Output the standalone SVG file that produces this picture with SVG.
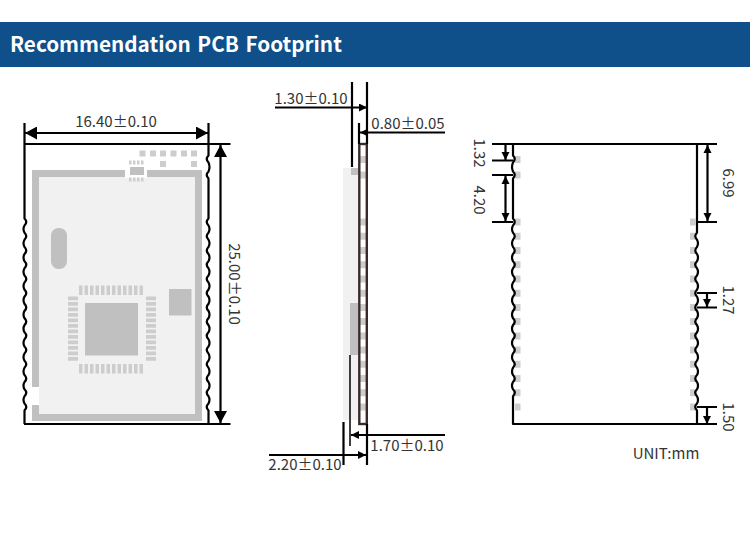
<svg xmlns="http://www.w3.org/2000/svg" width="750" height="550" viewBox="0 0 750 550">
<style>
text{font-family:"Noto Sans CJK SC","Noto Sans",sans-serif;font-size:15px;fill:#333}
text.t{font-family:"Noto Sans CJK SC","Noto Sans",sans-serif;font-size:20.700px;font-weight:700;fill:#fff;word-spacing:2px}
.g{fill:#c0c0c0}.p{fill:#cdcdcd}.k{fill:none;stroke:#000;stroke-width:2.200}
.e{fill:none;stroke:#000;stroke-width:2.200;stroke-linejoin:round}
</style>
<defs>
<marker id="bigE" markerUnits="userSpaceOnUse" markerWidth="13" markerHeight="14" refX="12" refY="6.500" orient="auto"><path d="M0 0L12 6.500L0 13Z"/></marker>
<marker id="bigS" markerUnits="userSpaceOnUse" markerWidth="13" markerHeight="14" refX="1" refY="6.500" orient="auto"><path d="M13 0L1 6.500L13 13Z"/></marker>
<marker id="smE" markerUnits="userSpaceOnUse" markerWidth="9" markerHeight="9" refX="8" refY="4" orient="auto"><path d="M0 0L8 4L0 8Z"/></marker>
<marker id="smS" markerUnits="userSpaceOnUse" markerWidth="9" markerHeight="9" refX="1" refY="4" orient="auto"><path d="M9 0L1 4L9 8Z"/></marker>
</defs>
<rect width="750" height="550" fill="#fff"/>
<g id="header"><rect x="0" y="22" width="750" height="45" fill="#0f4f8a"/><text class="t" x="10" y="51.500">Recommendation PCB Footprint</text></g>

<g id="module-top">
<rect x="32" y="170" width="170" height="251" fill="#c0c0c0"/>
<rect x="39" y="177" width="156" height="237" fill="#f1f1f1"/>
<rect x="125" y="168" width="22" height="10" fill="#fff"/>
<rect x="32" y="387" width="7" height="18" fill="#fff"/>
<rect x="130" y="167" width="14" height="8" class="g"/>
<path class="p" d="M129 160.500h2.500v4h-2.500zM133 160.500h2.500v4h-2.500zM137 160.500h2.500v4h-2.500zM141 160.500h2.500v4h-2.500zM129 177.500h2.500v4h-2.500zM133 177.500h2.500v4h-2.500zM137 177.500h2.500v4h-2.500zM141 177.500h2.500v4h-2.500z"/>
<path class="p" d="M139.500 150.500h6v6h-6zM150 150.500h6v6h-6zM160 150.500h6v6h-6zM170.500 150.500h6v6h-6zM181 150.500h6v6h-6zM191 150.500h6v6h-6zM160 161h6v6h-6zM191 161h6v6h-6z"/>
<rect x="51" y="228" width="16" height="41" rx="7.500" class="g"/>
<rect x="85" y="303" width="53" height="52.500" class="g"/>
<rect x="169" y="289" width="22.500" height="26.500" class="g"/>
<path class="p" d="M79 285.500h3.500v9.500h-3.500zM84.500 285.500h3.500v9.500h-3.500zM90 285.500h3.500v9.500h-3.500zM95.500 285.500h3.500v9.500h-3.500zM101 285.500h3.500v9.500h-3.500zM106.500 285.500h3.500v9.500h-3.500zM112 285.500h3.500v9.500h-3.500zM117.500 285.500h3.500v9.500h-3.500zM123 285.500h3.500v9.500h-3.500zM128.500 285.500h3.500v9.500h-3.500zM134 285.500h3.500v9.500h-3.500zM139.500 285.500h3.500v9.500h-3.500z"/>
<path class="p" d="M79 364h3.500v9.500h-3.500zM84.500 364h3.500v9.500h-3.500zM90 364h3.500v9.500h-3.500zM95.500 364h3.500v9.500h-3.500zM101 364h3.500v9.500h-3.500zM106.500 364h3.500v9.500h-3.500zM112 364h3.500v9.500h-3.500zM117.500 364h3.500v9.500h-3.500zM123 364h3.500v9.500h-3.500zM128.500 364h3.500v9.500h-3.500zM134 364h3.500v9.500h-3.500zM139.500 364h3.500v9.500h-3.500z"/>
<path class="p" d="M68 296.500h10v3.700h-10zM68 302h10v3.700h-10zM68 307.500h10v3.700h-10zM68 313h10v3.700h-10zM68 318.500h10v3.700h-10zM68 324h10v3.700h-10zM68 329.500h10v3.700h-10zM68 335h10v3.700h-10zM68 340.500h10v3.700h-10zM68 346h10v3.700h-10zM68 351.500h10v3.700h-10zM68 357h10v3.700h-10z"/>
<path class="p" d="M146 296.500h10v3.700h-10zM146 302h10v3.700h-10zM146 307.500h10v3.700h-10zM146 313h10v3.700h-10zM146 318.500h10v3.700h-10zM146 324h10v3.700h-10zM146 329.500h10v3.700h-10zM146 335h10v3.700h-10zM146 340.500h10v3.700h-10zM146 346h10v3.700h-10zM146 351.500h10v3.700h-10zM146 357h10v3.700h-10z"/>
<path class="e" d="M24.500 144V218.500q3.500 3.500 0 7q-2 3.600 0 7.230q3.500 3.500 0 7q-2 3.600 0 7.230q3.500 3.500 0 7q-2 3.600 0 7.230q3.500 3.500 0 7q-2 3.600 0 7.230q3.500 3.500 0 7q-2 3.600 0 7.230q3.500 3.500 0 7q-2 3.600 0 7.230q3.500 3.500 0 7q-2 3.600 0 7.230q3.500 3.500 0 7q-2 3.600 0 7.230q3.500 3.500 0 7q-2 3.600 0 7.230q3.500 3.500 0 7q-2 3.600 0 7.230q3.500 3.500 0 7q-2 3.600 0 7.230q3.500 3.500 0 7q-2 3.600 0 7.230q3.500 3.500 0 7q-2 3.600 0 7.230q3.500 3.500 0 7V424"/>
<path class="e" d="M208.500 144V155.500q-3.500 3.500 0 7q2 4.500 0 9q-3.500 3.500 0 7V218.500q-3.500 3.500 0 7q2 3.600 0 7.230q-3.500 3.500 0 7q2 3.600 0 7.230q-3.500 3.500 0 7q2 3.600 0 7.230q-3.500 3.500 0 7q2 3.600 0 7.230q-3.500 3.500 0 7q2 3.600 0 7.230q-3.500 3.500 0 7q2 3.600 0 7.230q-3.500 3.500 0 7q2 3.600 0 7.230q-3.500 3.500 0 7q2 3.600 0 7.230q-3.500 3.500 0 7q2 3.600 0 7.230q-3.500 3.500 0 7q2 3.600 0 7.230q-3.500 3.500 0 7q2 3.600 0 7.230q-3.500 3.500 0 7q2 3.600 0 7.230q-3.500 3.500 0 7q2 3.600 0 7.230q-3.500 3.500 0 7V424"/>
</g>

<g id="module-side">
<rect x="343" y="168" width="15" height="252" fill="#f1f1f1"/>
<rect x="351" y="168" width="7" height="7" class="g"/>
<rect x="350" y="303" width="8" height="52" class="g"/>
<path class="p" d="M360 156h6v7h-6zM360 171.500h6v7h-6zM360 218.500h6v7h-6zM360 232.700h6v7h-6zM360 247h6v7h-6zM360 261.200h6v7h-6zM360 275.400h6v7h-6zM360 289.700h6v7h-6zM360 303.900h6v7h-6zM360 318.100h6v7h-6zM360 332.400h6v7h-6zM360 346.600h6v7h-6zM360 360.800h6v7h-6zM360 375.100h6v7h-6zM360 389.300h6v7h-6zM360 403.500h6v7h-6z"/>
<rect x="359.300" y="144" width="7.500" height="280" fill="none" stroke="#3a2a2a" stroke-width="2.400"/>
</g>

<g id="module-pads">
<path class="p" d="M515 156h5.500v7h-5.500zM515 171.500h5.500v7h-5.500zM515 218.500h5.500v7h-5.500zM515 232.700h5.500v7h-5.500zM515 247h5.500v7h-5.500zM515 261.200h5.500v7h-5.500zM515 275.400h5.500v7h-5.500zM515 289.700h5.500v7h-5.500zM515 303.900h5.500v7h-5.500zM515 318.100h5.500v7h-5.500zM515 332.400h5.500v7h-5.500zM515 346.600h5.500v7h-5.500zM515 360.800h5.500v7h-5.500zM515 375.100h5.500v7h-5.500zM515 389.300h5.500v7h-5.500zM515 403.500h5.500v7h-5.500z"/>
<path class="p" d="M690 218.500h5.500v7h-5.500zM690 232.700h5.500v7h-5.500zM690 247h5.500v7h-5.500zM690 261.200h5.500v7h-5.500zM690 275.400h5.500v7h-5.500zM690 289.700h5.500v7h-5.500zM690 303.900h5.500v7h-5.500zM690 318.100h5.500v7h-5.500zM690 332.400h5.500v7h-5.500zM690 346.600h5.500v7h-5.500zM690 360.800h5.500v7h-5.500zM690 375.100h5.500v7h-5.500zM690 389.300h5.500v7h-5.500zM690 403.500h5.500v7h-5.500z"/>
<path class="e" d="M513 144V155.500q3.500 3.500 0 7q-2 4.500 0 9q3.500 3.500 0 7V218.500q3.500 3.500 0 7q-2 3.600 0 7.230q3.500 3.500 0 7q-2 3.600 0 7.230q3.500 3.500 0 7q-2 3.600 0 7.230q3.500 3.500 0 7q-2 3.600 0 7.230q3.500 3.500 0 7q-2 3.600 0 7.230q3.500 3.500 0 7q-2 3.600 0 7.230q3.500 3.500 0 7q-2 3.600 0 7.230q3.500 3.500 0 7q-2 3.600 0 7.230q3.500 3.500 0 7q-2 3.600 0 7.230q3.500 3.500 0 7q-2 3.600 0 7.230q3.500 3.500 0 7q-2 3.600 0 7.230q3.500 3.500 0 7q-2 3.600 0 7.230q3.500 3.500 0 7V424H697V410.500q-3.500 -3.500 0 -7q2 -3.600 0 -7.230q-3.500 -3.500 0 -7q2 -3.600 0 -7.230q-3.500 -3.500 0 -7q2 -3.600 0 -7.230q-3.500 -3.500 0 -7q2 -3.600 0 -7.230q-3.500 -3.500 0 -7q2 -3.600 0 -7.230q-3.500 -3.500 0 -7q2 -3.600 0 -7.230q-3.500 -3.500 0 -7q2 -3.600 0 -7.230q-3.500 -3.500 0 -7q2 -3.600 0 -7.230q-3.500 -3.500 0 -7q2 -3.600 0 -7.230q-3.500 -3.500 0 -7q2 -3.600 0 -7.230q-3.500 -3.500 0 -7q2 -3.600 0 -7.230q-3.500 -3.500 0 -7q2 -3.600 0 -7.230q-3.500 -3.500 0 -7V144Z"/>
</g>

<g id="connectors">
<path class="k" d="M24.500 123V144M208.500 123V144M24 144H230.500M24 424H230.500"/>
<path class="k" d="M25 133H208" marker-start="url(#bigS)" marker-end="url(#bigE)"/>
<path class="k" d="M220.500 145V423" marker-start="url(#bigS)" marker-end="url(#bigE)"/>
<path class="k" d="M352 82V167M367 82V144M359 123V144M367 424V465M343.500 422V465"/>
<path d="M350 355V446" fill="none" stroke="#000" stroke-width="1.500"/>
<path class="k" d="M275 107.500H367" marker-end="url(#smE)"/>
<path class="k" d="M445 132.500H360" marker-end="url(#smE)"/>
<path class="k" d="M445 435H351" marker-end="url(#smE)"/>
<path class="k" d="M269 455H366" marker-end="url(#smE)"/>
<path class="k" d="M492 144H717M492 160.500H513M492 175H513M492 222H513M697 222H717M697 293H717M697 307.500H717M697 407H717M697 424H717"/>
<path class="k" d="M505.500 145V160" marker-end="url(#smE)"/>
<path class="k" d="M505.500 176V221" marker-start="url(#smS)" marker-end="url(#smE)"/>
<path class="k" d="M707.500 145V221" marker-start="url(#smS)" marker-end="url(#smE)"/>
<path class="k" d="M707 294V307" marker-end="url(#smE)"/>
<path class="k" d="M707 408V424" marker-end="url(#smE)"/>
</g>

<g id="labels">
<text x="116" y="127" text-anchor="middle">16.40±0.10</text>
<text transform="translate(229 284) rotate(90)" text-anchor="middle">25.00±0.10</text>
<text x="311" y="104" text-anchor="middle">1.30±0.10</text>
<text x="408" y="129" text-anchor="middle">0.80±0.05</text>
<text x="407" y="451" text-anchor="middle">1.70±0.10</text>
<text x="305" y="470" text-anchor="middle">2.20±0.10</text>
<text transform="translate(474 153) rotate(90)" text-anchor="middle">1.32</text>
<text transform="translate(474 200) rotate(90)" text-anchor="middle">4.20</text>
<text transform="translate(723 183) rotate(90)" text-anchor="middle">6.99</text>
<text transform="translate(723 300) rotate(90)" text-anchor="middle">1.27</text>
<text transform="translate(723 417) rotate(90)" text-anchor="middle">1.50</text>
<text x="666" y="459" text-anchor="middle">UNIT:mm</text>
</g>
</svg>
